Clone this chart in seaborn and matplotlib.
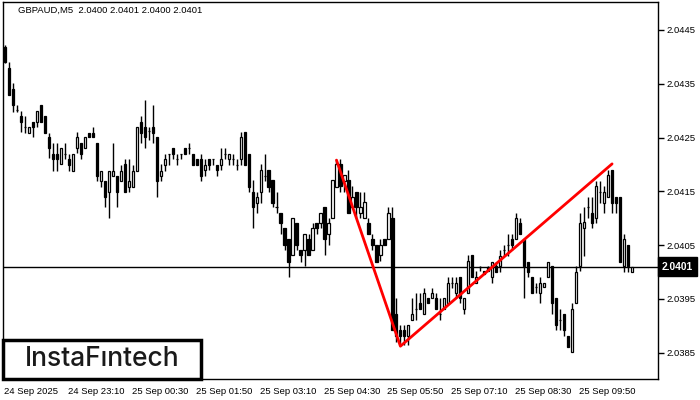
import numpy as np
import pandas as pd
import matplotlib
matplotlib.use("Agg")
import matplotlib.pyplot as plt
import matplotlib.transforms as mtransforms
from matplotlib.patches import Rectangle
import seaborn as sns

# GBPAUD M5 candles, 24 Sep 21:50 .. 25 Sep 10:55
opens = [
    2.04418, 2.04379, 2.04340, 2.04301, 2.04290, 2.04270, 2.04259, 2.04279, 2.04279, 2.04311,
    2.04290, 2.04251, 2.04220, 2.04220, 2.04201, 2.04220, 2.04210, 2.04188, 2.04231, 2.04240,
    2.04231, 2.04259, 2.04259, 2.04240, 2.04169, 2.04169, 2.04149, 2.04179, 2.04179, 2.04169,
    2.04201, 2.04158, 2.04158, 2.04188, 2.04279, 2.04270, 2.04262, 2.04270, 2.04251, 2.04179,
    2.04199, 2.04220, 2.04231, 2.04210, 2.04220, 2.04231, 2.04231, 2.04220, 2.04210, 2.04210,
    2.04190, 2.04210, 2.04210, 2.04199, 2.04199, 2.04220, 2.04210, 2.04210, 2.04199, 2.04210,
    2.04260, 2.04220, 2.04149, 2.04128, 2.04149, 2.04179, 2.04190, 2.04171, 2.04121, 2.04110,
    2.04082, 2.04062, 2.04032, 2.04091, 2.04041, 2.04041, 2.04062, 2.04041, 2.04091, 2.04091,
    2.04121, 2.04071, 2.04101, 2.04158, 2.04201, 2.04169, 2.04171, 2.04121, 2.04149, 2.04110,
    2.04101, 2.04091, 2.04062, 2.04050, 2.04032, 2.04062, 2.04062, 2.04101, 2.03922, 2.03892,
    2.03892, 2.03881, 2.03911, 2.03931, 2.03943, 2.03922, 2.03952, 2.03952, 2.03952, 2.03922,
    2.03931, 2.03943, 2.03980, 2.03961, 2.03991, 2.03931, 2.03961, 2.04032, 2.03980, 2.04009,
    2.04002, 2.04009, 2.03991, 2.04011, 2.04011, 2.04041, 2.04050, 2.04062, 2.04062, 2.04091,
    2.04062, 2.04019, 2.03991, 2.03972, 2.03961, 2.03972, 2.03991, 2.04011, 2.03952, 2.03911,
    2.03922, 2.03881, 2.03851, 2.03943, 2.04011, 2.04082, 2.04121, 2.04110, 2.04101, 2.04149,
    2.04128, 2.04140, 2.04190, 2.04140, 2.04140, 2.04011, 2.04050, 2.04000,
]
highs = [
    2.04422, 2.04390, 2.04351, 2.04311, 2.04299, 2.04290, 2.04270, 2.04279, 2.04299, 2.04311,
    2.04290, 2.04259, 2.04240, 2.04240, 2.04231, 2.04240, 2.04220, 2.04220, 2.04260, 2.04240,
    2.04251, 2.04259, 2.04270, 2.04240, 2.04188, 2.04169, 2.04188, 2.04240, 2.04179, 2.04199,
    2.04210, 2.04210, 2.04199, 2.04270, 2.04290, 2.04320, 2.04270, 2.04311, 2.04251, 2.04201,
    2.04220, 2.04220, 2.04231, 2.04220, 2.04220, 2.04231, 2.04240, 2.04220, 2.04210, 2.04220,
    2.04210, 2.04210, 2.04210, 2.04199, 2.04231, 2.04231, 2.04220, 2.04220, 2.04210, 2.04260,
    2.04260, 2.04220, 2.04171, 2.04149, 2.04201, 2.04220, 2.04190, 2.04171, 2.04149, 2.04110,
    2.04082, 2.04062, 2.04101, 2.04091, 2.04041, 2.04071, 2.04071, 2.04091, 2.04091, 2.04110,
    2.04121, 2.04101, 2.04171, 2.04210, 2.04210, 2.04180, 2.04190, 2.04160, 2.04149, 2.04149,
    2.04149, 2.04101, 2.04071, 2.04050, 2.04062, 2.04062, 2.04121, 2.04121, 2.03952, 2.03902,
    2.03902, 2.03902, 2.03952, 2.03961, 2.03961, 2.03970, 2.03952, 2.03970, 2.03961, 2.03952,
    2.03952, 2.03991, 2.03991, 2.03991, 2.03991, 2.03952, 2.04032, 2.04032, 2.04002, 2.04011,
    2.04002, 2.04011, 2.04019, 2.04019, 2.04041, 2.04050, 2.04071, 2.04071, 2.04110, 2.04101,
    2.04062, 2.04019, 2.03991, 2.03980, 2.03991, 2.03980, 2.04019, 2.04011, 2.03952, 2.03931,
    2.03922, 2.03881, 2.03943, 2.04011, 2.04110, 2.04121, 2.04140, 2.04140, 2.04169, 2.04169,
    2.04160, 2.04190, 2.04190, 2.04140, 2.04140, 2.04071, 2.04050, 2.04010,
]
lows = [
    2.04389, 2.04329, 2.04298, 2.04298, 2.04260, 2.04259, 2.04259, 2.04251, 2.04270, 2.04279,
    2.04259, 2.04212, 2.04188, 2.04188, 2.04201, 2.04210, 2.04188, 2.04188, 2.04221, 2.04210,
    2.04231, 2.04251, 2.04251, 2.04169, 2.04158, 2.04121, 2.04101, 2.04179, 2.04121, 2.04169,
    2.04149, 2.04149, 2.04158, 2.04188, 2.04240, 2.04231, 2.04245, 2.04240, 2.04140, 2.04169,
    2.04188, 2.04199, 2.04210, 2.04199, 2.04210, 2.04220, 2.04220, 2.04199, 2.04199, 2.04169,
    2.04179, 2.04190, 2.04199, 2.04179, 2.04190, 2.04210, 2.04199, 2.04199, 2.04190, 2.04199,
    2.04199, 2.04149, 2.04082, 2.04110, 2.04128, 2.04169, 2.04149, 2.04121, 2.04110, 2.04071,
    2.04041, 2.03991, 2.04032, 2.04041, 2.04019, 2.04011, 2.04032, 2.04041, 2.04071, 2.04082,
    2.04032, 2.04050, 2.04101, 2.04158, 2.04149, 2.04149, 2.04110, 2.04121, 2.04101, 2.04101,
    2.04101, 2.04071, 2.04041, 2.04019, 2.04021, 2.04050, 2.04062, 2.03892, 2.03870, 2.03864,
    2.03864, 2.03864, 2.03911, 2.03911, 2.03931, 2.03922, 2.03943, 2.03952, 2.03931, 2.03911,
    2.03931, 2.03943, 2.03970, 2.03952, 2.03943, 2.03922, 2.03961, 2.03991, 2.03980, 2.04002,
    2.03996, 2.04002, 2.03980, 2.04000, 2.04000, 2.04030, 2.04030, 2.04041, 2.04062, 2.04071,
    2.03952, 2.03991, 2.03961, 2.03961, 2.03943, 2.03972, 2.03991, 2.03922, 2.03892, 2.03892,
    2.03881, 2.03861, 2.03851, 2.03943, 2.04002, 2.04030, 2.04101, 2.04082, 2.04091, 2.04128,
    2.04110, 2.04140, 2.04110, 2.04110, 2.04019, 2.04000, 2.04000, 2.04000,
]
closes = [
    2.04390, 2.04329, 2.04311, 2.04301, 2.04279, 2.04270, 2.04270, 2.04270, 2.04299, 2.04279,
    2.04259, 2.04231, 2.04210, 2.04210, 2.04231, 2.04220, 2.04199, 2.04220, 2.04251, 2.04220,
    2.04251, 2.04251, 2.04251, 2.04179, 2.04188, 2.04140, 2.04188, 2.04188, 2.04149, 2.04188,
    2.04149, 2.04169, 2.04188, 2.04270, 2.04259, 2.04251, 2.04262, 2.04259, 2.04169, 2.04188,
    2.04210, 2.04220, 2.04220, 2.04210, 2.04220, 2.04220, 2.04231, 2.04199, 2.04199, 2.04179,
    2.04199, 2.04199, 2.04210, 2.04190, 2.04210, 2.04220, 2.04220, 2.04210, 2.04199, 2.04251,
    2.04199, 2.04158, 2.04121, 2.04140, 2.04190, 2.04179, 2.04158, 2.04128, 2.04121, 2.04091,
    2.04050, 2.04019, 2.04101, 2.04050, 2.04032, 2.04071, 2.04032, 2.04082, 2.04082, 2.04110,
    2.04062, 2.04091, 2.04171, 2.04201, 2.04160, 2.04180, 2.04110, 2.04140, 2.04121, 2.04121,
    2.04130, 2.04071, 2.04050, 2.04019, 2.04050, 2.04050, 2.04110, 2.03892, 2.03881, 2.03881,
    2.03881, 2.03902, 2.03922, 2.03931, 2.03931, 2.03961, 2.03943, 2.03961, 2.03931, 2.03922,
    2.03952, 2.03980, 2.03980, 2.03980, 2.03952, 2.03952, 2.04021, 2.03991, 2.03991, 2.04009,
    2.03996, 2.04002, 2.04019, 2.04000, 2.04030, 2.04041, 2.04050, 2.04050, 2.04101, 2.04071,
    2.04011, 2.04000, 2.03961, 2.03972, 2.03980, 2.03980, 2.04019, 2.03943, 2.03902, 2.03911,
    2.03892, 2.03861, 2.03931, 2.04000, 2.04091, 2.04093, 2.04121, 2.04091, 2.04160, 2.04149,
    2.04149, 2.04180, 2.04128, 2.04128, 2.04019, 2.04062, 2.04011, 2.04010,
]

time_labels = ["24 Sep 2025", "24 Sep 23:10", "25 Sep 00:30", "25 Sep 01:50", "25 Sep 03:10",
               "25 Sep 04:30", "25 Sep 05:50", "25 Sep 07:10", "25 Sep 08:30", "25 Sep 09:50"]
bars_per_label = 16
price_ticks = [2.0385, 2.0395, 2.0405, 2.0415, 2.0425, 2.0435, 2.0445]
last_price = 2.0401
header = "GBPAUD,M5  2.0400 2.0401 2.0400 2.0401"

# double bottom / top pattern line (bar index, price)
pattern_bar = [83, 99, 152]
pattern_price = [2.04208, 2.03862, 2.04201]

df = pd.DataFrame({"open": opens, "high": highs, "low": lows, "close": closes})
df["bar"] = np.arange(len(df))
df["up"] = df["close"] > df["open"]

sns.set_style("white")
plt.rcParams["font.family"] = ["Liberation Sans", "DejaVu Sans"]

fig = plt.figure(figsize=(7, 4), dpi=100)
ax = fig.add_axes([3 / 700, 21 / 400, 655 / 700, 377 / 400])

ax.axhline(last_price, color="black", linewidth=1, zorder=1)

ax.vlines(df["bar"], df["low"], df["high"], color="black", linewidth=1, zorder=2)
body_low = df[["open", "close"]].min(axis=1)
body_h = (df["close"] - df["open"]).abs().clip(lower=0.0000015)
ax.bar(df["bar"], body_h, bottom=body_low, width=0.55,
       color=np.where(df["up"], "white", "black"), edgecolor="black",
       linewidth=0.9, zorder=3)

sns.lineplot(x=pattern_bar, y=pattern_price, color="red", linewidth=2, ax=ax, zorder=4)

ax.set_xlim(-0.5, 163.5)
ax.set_ylim(2.03801, 2.04502)

ax.yaxis.tick_right()
ax.set_yticks(price_ticks)
ax.set_yticklabels([f"{p:.4f}" for p in price_ticks])
ax.set_xticks(np.arange(len(time_labels)) * bars_per_label - 0.25)
ax.set_xticklabels(time_labels)
for lbl in ax.get_xticklabels():
    lbl.set_horizontalalignment("left")
ax.tick_params(axis="both", direction="out", length=4, width=1, color="black",
               labelsize=6.8, pad=2, labelcolor="black")
ax.set_xlabel("")
ax.set_ylabel("")
for sp in ax.spines.values():
    sp.set_visible(True)
    sp.set_color("black")
    sp.set_linewidth(1)

# current price tag on the right scale
trans = mtransforms.blended_transform_factory(ax.transAxes, ax.transData)
ax.text(1.006, last_price, "2.0401", transform=trans, ha="left", va="center",
        fontsize=7.4, color="white", fontweight="bold", clip_on=False, zorder=6,
        bbox=dict(boxstyle="square,pad=0.4", facecolor="black", edgecolor="black"))

fig.text(18 / 700, 1 - 10 / 400, header, fontsize=6.8, ha="left", va="center", color="black")

# logo box
ax.add_patch(Rectangle((3 / 700, 21 / 400), 198 / 700, 39 / 400, transform=fig.transFigure,
                       facecolor="white", edgecolor="black", linewidth=2.5,
                       clip_on=False, zorder=10))
ax.text(102 / 700, 1 - 359 / 400, "InstaFıntech", transform=fig.transFigure,
        ha="center", va="center", fontsize=19, family=["Inter", "DejaVu Sans"],
        fontweight="medium", color="#1a1a1a", zorder=11)

fig.savefig("out.png", dpi=100)
